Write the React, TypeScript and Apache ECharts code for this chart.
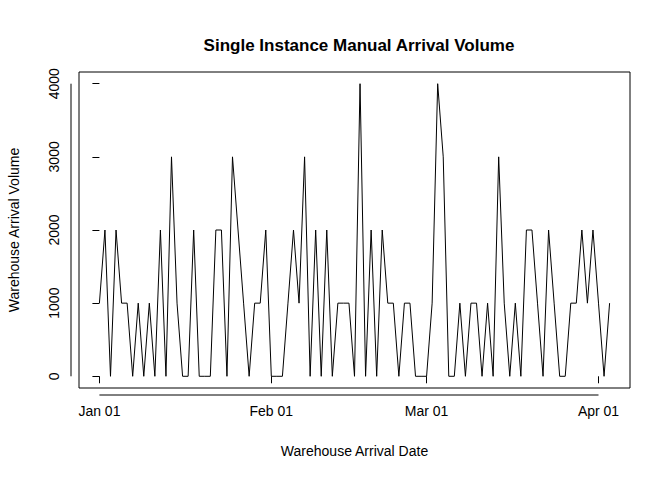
import React, { useEffect, useRef } from "react";
import * as echarts from "echarts";

const startDate = "2021-01-01";
const volumes = [
  1000, 2000, 0, 2000, 1000, 1000, 0, 1000, 0, 1000, 0, 2000, 0, 3000, 1000, 0, 0, 2000, 0, 0, 0,
  2000, 2000, 0, 3000, 2000, 1000, 0, 1000, 1000, 2000,
  0, 0, 0, 1000, 2000, 1000, 3000, 0, 2000, 0, 2000, 0, 1000, 1000, 1000, 0, 4000, 0, 2000, 0, 2000,
  1000, 1000, 0, 1000, 1000, 0, 0,
  0, 1000, 4000, 3000, 0, 0, 1000, 0, 1000, 1000, 0, 1000, 0, 3000, 1000, 0, 1000, 0, 2000, 2000,
  1000, 0, 2000, 1000, 0, 0, 1000, 1000, 2000, 1000, 2000, 1000, 0, 1000,
];
const xTickDays = [0, 31, 59, 90];
const xTickLabels = ["Jan 01", "Feb 01", "Mar 01", "Apr 01"];
const yTicks = [0, 1000, 2000, 3000, 4000];

const font = "Liberation Sans, Arial, Helvetica, sans-serif";

export default function App() {
  const ref = useRef<HTMLDivElement>(null);
  useEffect(() => {
    document.body.style.margin = "0";
    const chart = echarts.init(ref.current!, null, { renderer: "svg" });
    const data = volumes.map((v, i) => [i, v]);
    const n = volumes.length - 1;
    const xPad = n * 0.04;
    const yMax = Math.max(...volumes);
    const yPad = yMax * 0.04;
    const labelMap: Record<number, string> = {};
    xTickDays.forEach((d, i) => (labelMap[d] = xTickLabels[i]));
    chart.setOption({
      animation: false,
      title: {
        text: "Single Instance Manual Arrival Volume",
        left: 354,
        textAlign: "center",
        top: 32,
        textStyle: { fontFamily: font, fontSize: 17, fontWeight: "bold", color: "#000" },
      },
      grid: {
        left: 79, right: 42, top: 72, bottom: 92,
        outerBoundsMode: "none", containLabel: false,
        show: true, borderColor: "#000", borderWidth: 1,
      },
      xAxis: {
        type: "value",
        min: -xPad,
        max: n + xPad,
        offset: 7,
        splitLine: { show: false },
        axisLine: { show: false },
        axisTick: { show: true, inside: false, length: 7, customValues: xTickDays, lineStyle: { color: "#000" } },
        axisLabel: {
          customValues: xTickDays,
          formatter: (v: number) => labelMap[v] ?? "",
          color: "#000",
          fontFamily: font,
          fontSize: 14,
          margin: 9,
        },
        name: "Warehouse Arrival Date",
        nameLocation: "middle",
        nameGap: 49,
        nameTextStyle: { color: "#000", fontFamily: font, fontSize: 14 },
      },
      yAxis: {
        type: "value",
        min: -yPad,
        max: yMax + yPad,
        offset: 8,
        splitLine: { show: false },
        axisLine: { show: false },
        axisTick: { show: true, inside: false, length: 7, customValues: yTicks, lineStyle: { color: "#000" } },
        axisLabel: {
          customValues: yTicks,
          formatter: (v: number) => String(v),
          rotate: 90,
          color: "#000",
          fontFamily: font,
          fontSize: 14,
          margin: 10,
        },
        name: "Warehouse Arrival Volume",
        nameLocation: "middle",
        nameGap: 50,
        nameTextStyle: { color: "#000", fontFamily: font, fontSize: 14 },
      },
      series: [
        {
          type: "line",
          data,
          symbol: "none",
          lineStyle: { color: "#000", width: 1 },
        },
      ],
    });
    const ax0 = chart.convertToPixel({ gridIndex: 0 }, [xTickDays[0], yTicks[0]]) as number[];
    const ax1 = chart.convertToPixel({ gridIndex: 0 }, [xTickDays[xTickDays.length - 1], yTicks[yTicks.length - 1]]) as number[];
    const xLineY = 388 + 7;
    const yLineX = 79 - 8;
    chart.setOption({
      graphic: [
        { type: "line", shape: { x1: ax0[0], y1: xLineY, x2: ax1[0], y2: xLineY }, style: { stroke: "#000", lineWidth: 1 } },
        { type: "line", shape: { x1: yLineX, y1: ax0[1], x2: yLineX, y2: ax1[1] }, style: { stroke: "#000", lineWidth: 1 } },
      ],
    });
    return () => chart.dispose();
  }, []);
  return <div ref={ref} style={{ width: 672, height: 480 }} />;
}
